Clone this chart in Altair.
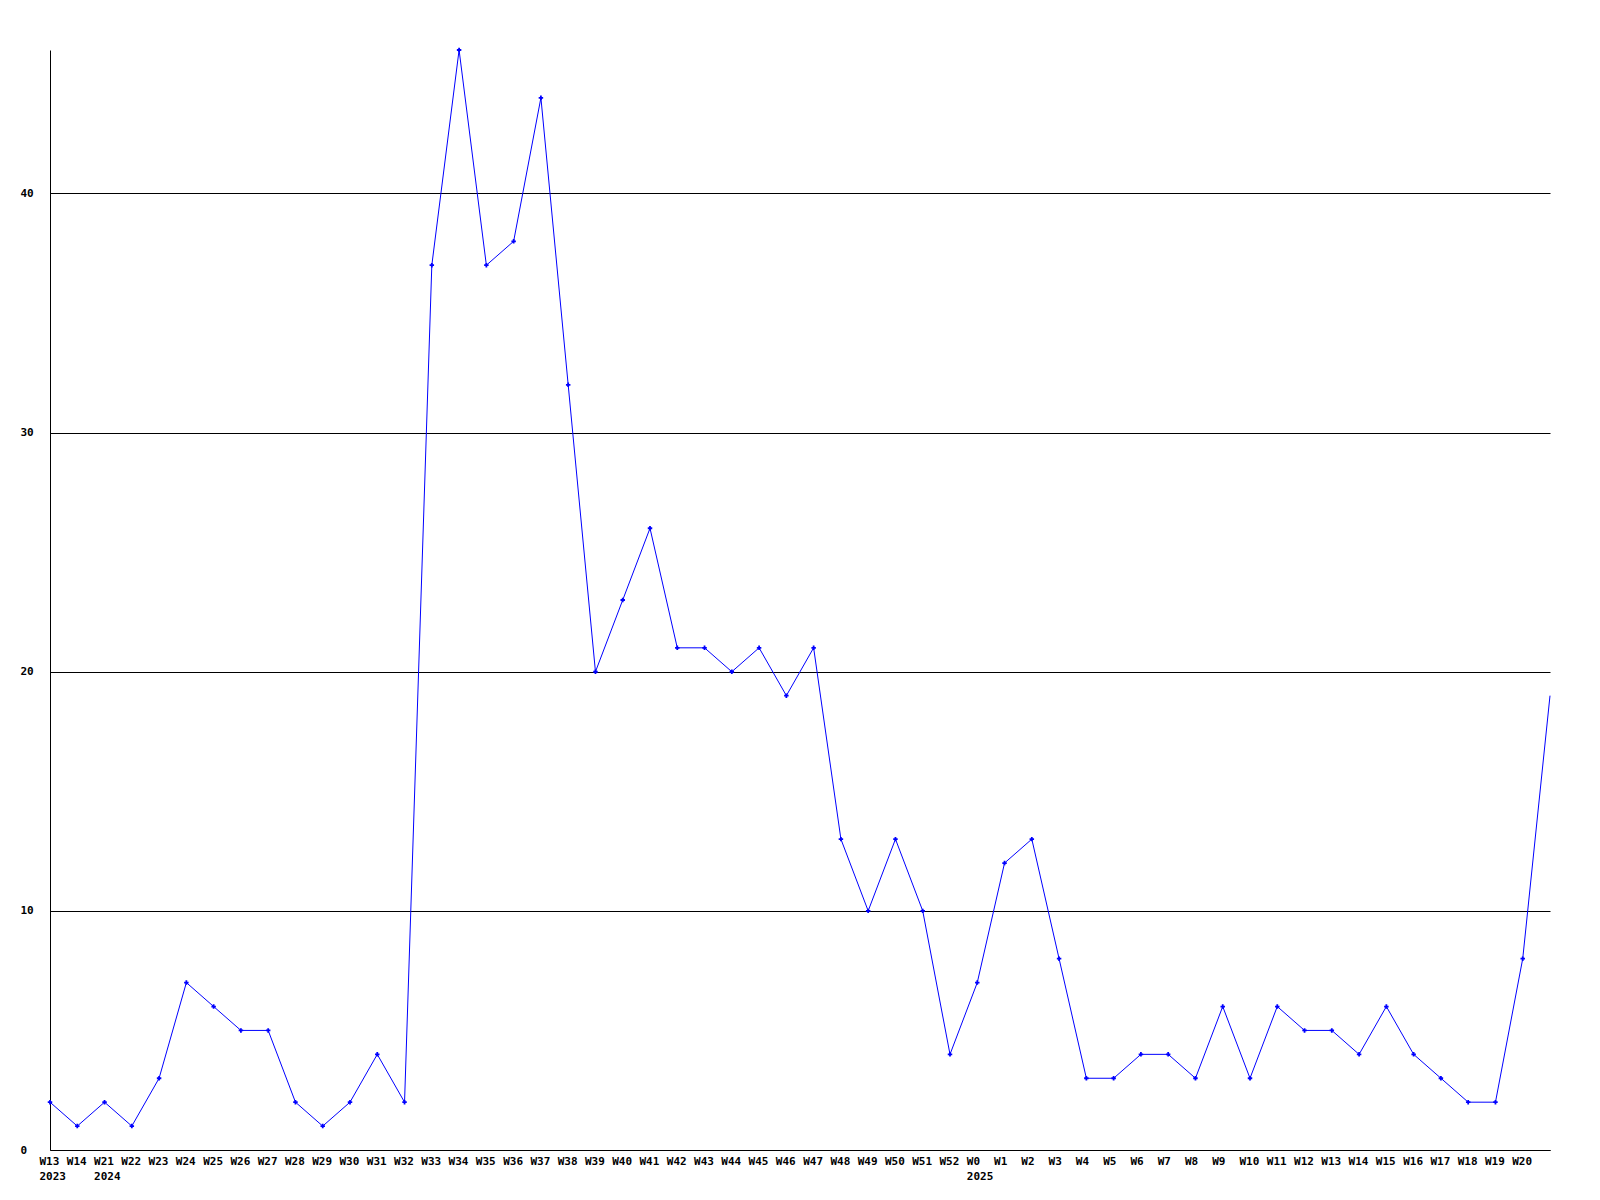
import altair as alt
import pandas as pd

weeks = ["W13", "W14", "W21", "W22", "W23", "W24", "W25", "W26", "W27", "W28",
         "W29", "W30", "W31", "W32", "W33", "W34", "W35", "W36", "W37", "W38",
         "W39", "W40", "W41", "W42", "W43", "W44", "W45", "W46", "W47", "W48",
         "W49", "W50", "W51", "W52", "W0", "W1", "W2", "W3", "W4", "W5",
         "W6", "W7", "W8", "W9", "W10", "W11", "W12", "W13", "W14", "W15",
         "W16", "W17", "W18", "W19", "W20", ""]
years = ["2023", "", "2024", "", "", "", "", "", "", "", "", "", "", "", "", "", "", "", "", "",
         "", "", "", "", "", "", "", "", "", "", "", "", "", "", "2025", "", "", "", "", "",
         "", "", "", "", "", "", "", "", "", "", "", "", "", "", "", ""]
values = [2, 1, 2, 1, 3, 7, 6, 5, 5, 2,
          1, 2, 4, 2, 37, 46, 37, 38, 44, 32,
          20, 23, 26, 21, 21, 20, 21, 19, 21, 13,
          10, 13, 10, 4, 7, 12, 13, 8, 3, 3,
          4, 4, 3, 6, 3, 6, 5, 5, 4, 6,
          4, 3, 2, 2, 8, 19]

n = len(values)
df = pd.DataFrame({"i": list(range(n)), "v": values,
                   "marker": [1] * (n - 1) + [0]})

label_strs = [(w + "|" + y) if y else w for w, y in zip(weeks, years)]
label_js = "[" + ",".join("'" + s + "'" for s in label_strs) + "]"

font = "DejaVu Sans Mono"

x = alt.X("i:Q", scale=alt.Scale(domain=[0, n - 1], nice=False, zero=False),
          axis=alt.Axis(values=list(range(n - 1)), title=None, grid=False, ticks=False,
                        domain=True, domainColor="black", domainWidth=1,
                        labelExpr="split(" + label_js + "[datum.value], '|')",
                        labelAlign="left", labelOffset=-11, labelBaseline="top",
                        labelPadding=5, labelLineHeight=15, labelFont=font,
                        labelFontWeight="bold", labelFontSize=11, labelColor="black",
                        labelOverlap=False, labelBound=False, labelFlush=False))
y = alt.Y("v:Q", scale=alt.Scale(domain=[0, 46], nice=False),
          axis=alt.Axis(values=[0, 10, 20, 30, 40], title=None, grid=True, gridColor="black",
                        gridOpacity=1, gridWidth=1, ticks=False, domain=True,
                        domainColor="black", domainWidth=1, labelPadding=30,
                        labelAlign="left",
                        labelFont=font, labelFontWeight="bold", labelFontSize=11,
                        labelColor="black", format="d"))

line = alt.Chart(df).mark_line(color="#0000FF", strokeWidth=1).encode(x=x, y=y)
pts = alt.Chart(df).transform_filter("datum.marker == 1").mark_point(
    shape="cross", filled=True, color="#0000FF", size=20, opacity=1).encode(x=x, y=y)

chart = alt.layer(line, pts).properties(
    width=1500, height=1100,
    autosize=alt.AutoSizeParams(type="none"),
    padding={"left": 42, "top": 42, "right": 42, "bottom": 42},
    background="white",
).configure_view(stroke=None, strokeWidth=0)

chart.save("out.html", embed_options={"renderer": "svg", "actions": False})
